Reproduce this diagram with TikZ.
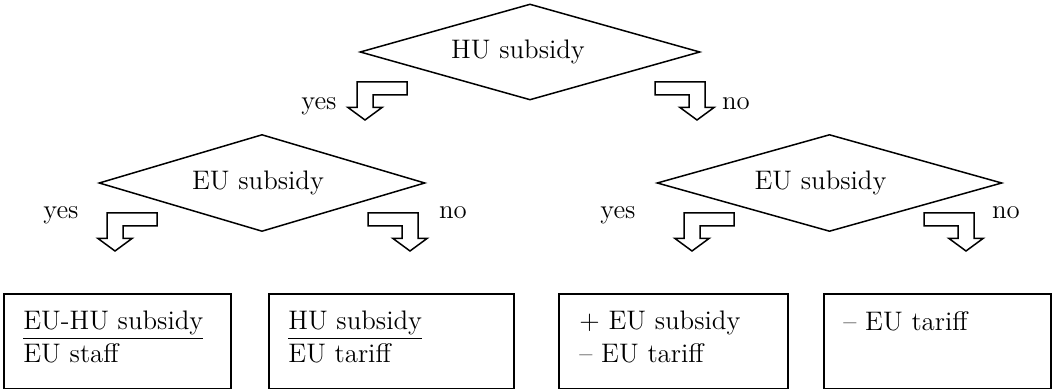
\documentclass[tikz,border=0pt]{standalone}
\usetikzlibrary{shapes.geometric}

\tikzset{
  decision/.style={diamond, draw, line width=0.75pt, aspect=3.5, inner sep=0pt},
  outcome/.style={rectangle, draw, line width=0.9pt, anchor=north west, minimum height=47.5pt, inner sep=0pt},
  outtext/.style={anchor=north west, align=left, inner sep=0pt},
  bentarrow/.style={draw, line width=0.75pt, line join=miter},
  answer/.style={anchor=base, inner sep=0pt}
}

\begin{document}
\begin{tikzpicture}[x=0.5pt, y=-0.5pt, font=\fontsize{13.4}{16.5}\selectfont]
  \useasboundingbox (0,0) rectangle (1061,389);
  % decisions
  \node[decision, minimum width=170pt, minimum height=48pt] (hu) at (530,52) {};
  \node[decision, minimum width=163pt, minimum height=48.5pt] (euL) at (262,183) {};
  \node[decision, minimum width=172.5pt, minimum height=48.5pt] (euR) at (829.5,183) {};
  \node (hutext) at ([shift={(-12,0)}]hu.center) {HU subsidy};
  \node (euLtext) at ([shift={(-4,0)}]euL.center) {EU subsidy};
  \node (euRtext) at ([shift={(-9,0)}]euR.center) {EU subsidy};
  % bent arrows: tip x / tip y / side (1 = yes, -1 = no)
  \foreach \tx/\ty/\s in {365/120/1, 697/120/-1, 115/251/1, 410/251/-1, 692/251/1, 966/251/-1}
    \draw[bentarrow] (\tx,\ty) -- ({\tx+(\s)*17},{\ty-12.5}) -- ({\tx+(\s)*8},{\ty-12.5})
      -- ({\tx+(\s)*8},{\ty-25}) -- ({\tx+(\s)*42},{\ty-25}) -- ({\tx+(\s)*42},{\ty-38})
      -- ({\tx-(\s)*8},{\ty-38}) -- ({\tx-(\s)*8},{\ty-12.5}) -- ({\tx-(\s)*17},{\ty-12.5}) -- cycle;
  % answers
  \node[answer] (huyes) at (319,110) {yes};
  \node[answer] (huno) at (736,110) {no};
  \node[answer] (euLyes) at (61,219) {yes};
  \node[answer] (euLno) at (453,219) {no};
  \node[answer] (euRyes) at (618,219) {yes};
  \node[answer] (euRno) at (1006,219) {no};
  % outcomes
  \node[outcome, minimum width=113.5pt] (b1) at (3,293) {};
  \node[outcome, minimum width=122.5pt] (b2) at (268,293) {};
  \node[outcome, minimum width=114.5pt] (b3) at (558,293) {};
  \node[outcome, minimum width=113.5pt] (b4) at (823,293) {};
  \node[outtext] (t1) at ([shift={(20,18)}]b1.north west) {\underline{EU-HU subsidy}\\EU staff};
  \node[outtext] (t2) at ([shift={(20,18)}]b2.north west) {\underline{HU subsidy}\\EU tariff};
  \node[outtext] (t3) at ([shift={(21,18)}]b3.north west) {+ EU subsidy\\– EU tariff};
  \node[outtext] (t4) at ([shift={(20,18)}]b4.north west) {– EU tariff};
\end{tikzpicture}
\end{document}
